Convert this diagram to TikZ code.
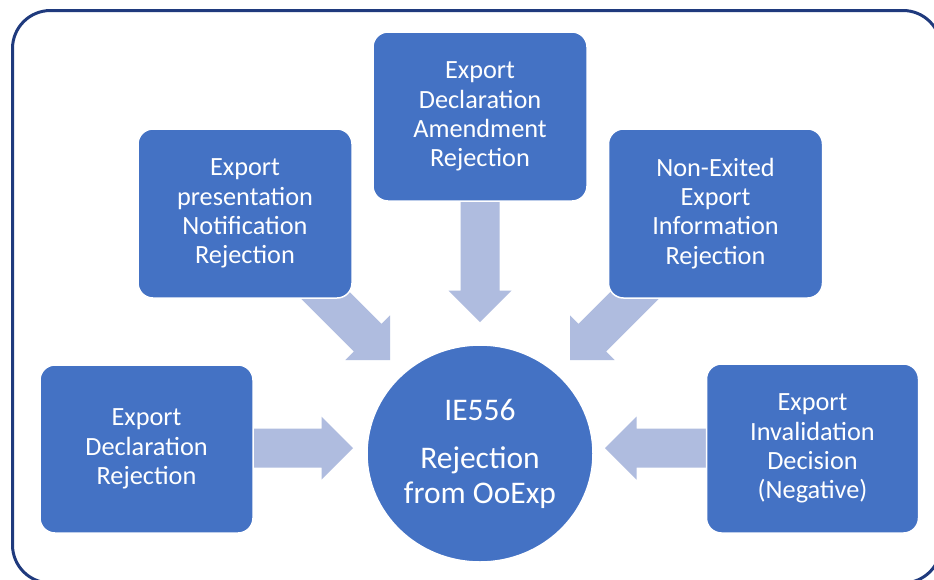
\documentclass[tikz,border=0pt]{standalone}
\usepackage{fontspec}
\setmainfont{Carlito}
\usetikzlibrary{calc,shapes.geometric}
\definecolor{boxblue}{HTML}{4472C4}
\definecolor{arrowc}{HTML}{AFBCDF}
\definecolor{framec}{HTML}{1F3A7D}
% block arrow from coordinate #1 (tail) to coordinate #2 (tip)
\newcommand\blockarrow[2]{%
  \coordinate (#1-h) at ($(#2)!31.5pt!(#1)$);
  \fill[arrowc] ($(#1)!19.5pt!90:(#2)$) -- ($(#1-h)!19.5pt!-90:(#1)$)
    -- ($(#1-h)!31.5pt!-90:(#1)$) -- (#2) -- ($(#1-h)!31.5pt!90:(#1)$)
    -- ($(#1-h)!19.5pt!90:(#1)$) -- ($(#1)!19.5pt!-90:(#2)$) -- cycle;
}
\tikzset{
  box/.style={rectangle, rounded corners=15pt, fill=boxblue, draw=white, line width=1.5pt,
    minimum width=214pt, minimum height=169pt, text=white, align=center, inner sep=0pt,
    font=\fontsize{26.3}{29.2}\selectfont},
  hub/.style={ellipse, fill=boxblue, draw=white, line width=1.5pt,
    minimum width=226pt, minimum height=217pt, inner sep=0pt, text=white, align=center,
    font=\fontsize{31.5}{35}\selectfont},
  frame/.style={draw=framec, line width=3pt, rounded corners=38pt}
}
\begin{document}
\begin{tikzpicture}[x=1pt, y=-1pt]
\useasboundingbox (0,0) rectangle (934,579);
\clip (0,0) rectangle (934,579);
\fill[white] (0,0) rectangle (934,579);
\draw[frame] (12.5,10.5) rectangle (941,583);
% arrow end points
\coordinate (tailL) at (200,448);  \coordinate (tipL) at (353,448);
\coordinate (tailR) at (760,448);  \coordinate (tipR) at (605,448);
\coordinate (tailT) at (480,150);  \coordinate (tipT) at (480,322);
\coordinate (tailTL) at (300,270); \coordinate (tipTL) at (390,360);
\coordinate (tailTR) at (660,270); \coordinate (tipTR) at (570,360);
\blockarrow{tailL}{tipL}
\blockarrow{tailR}{tipR}
\blockarrow{tailT}{tipT}
\blockarrow{tailTL}{tipTL}
\blockarrow{tailTR}{tipTR}
% boxes
\node[box] (top) at (480,116.5) {Export\\Declaration\\Amendment\\Rejection};
\node[box] (tl) at (245,213.5) {Export\\presentation\\Notification\\Rejection};
\node[box] (tr) at (715.5,213.5) {Non-Exited\\Export\\Information\\Rejection};
\node[box, minimum width=213pt, minimum height=168pt] (dl) at (146.5,449) {Export\\Declaration\\Rejection};
\node[box, minimum width=212pt, minimum height=169pt] (dr) at (812.5,448.5) {Export\\Invalidation\\Decision\\(Negative)};
\node[hub] (hub) at (480,453.5) {IE556\\[13pt]Rejection\\from OoExp};
\end{tikzpicture}
\end{document}
